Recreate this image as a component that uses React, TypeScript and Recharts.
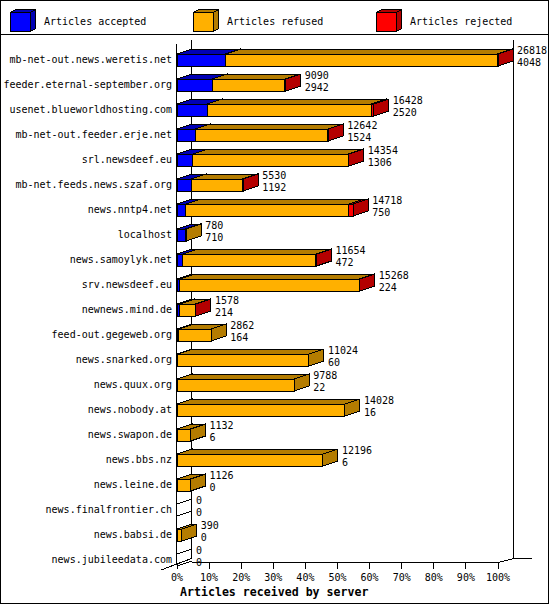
import { BarChart, Bar, XAxis, YAxis, LabelList } from "recharts";

const servers = [
  "mb-net-out.news.weretis.net",
  "feeder.eternal-september.org",
  "usenet.blueworldhosting.com",
  "mb-net-out.feeder.erje.net",
  "srl.newsdeef.eu",
  "mb-net.feeds.news.szaf.org",
  "news.nntp4.net",
  "localhost",
  "news.samoylyk.net",
  "srv.newsdeef.eu",
  "newnews.mind.de",
  "feed-out.gegeweb.org",
  "news.snarked.org",
  "news.quux.org",
  "news.nobody.at",
  "news.swapon.de",
  "news.bbs.nz",
  "news.leine.de",
  "news.finalfrontier.ch",
  "news.babsi.de",
  "news.jubileedata.com",
];

// upper number next to each bar
const offered = [26818, 9090, 16428, 12642, 14354, 5530, 14718, 780, 11654, 15268, 1578, 2862, 11024, 9788, 14028, 1132, 12196, 1126, 0, 390, 0];
const accepted = [4048, 2942, 2520, 1524, 1306, 1192, 750, 710, 472, 224, 214, 164, 60, 22, 16, 6, 6, 0, 0, 0, 0];
const refused = [22690, 6068, 13738, 11068, 12998, 4288, 13618, 70, 11132, 14994, 1304, 2698, 10964, 9766, 14012, 1126, 12190, 1126, 0, 390, 0];
const rejected = [80, 80, 170, 50, 50, 50, 350, 0, 50, 50, 60, 0, 0, 0, 0, 0, 0, 0, 0, 0, 0];

const tickLabels = ["0%", "10%", "20%", "30%", "40%", "50%", "60%", "70%", "80%", "90%", "100%"];

const seriesNames = ["Articles accepted", "Articles refused", "Articles rejected"];
const frontColors = ["#0000ff", "#ffb000", "#ff0000"];
const darkColors = ["#0000b4", "#b47c00", "#b40000"];

const FONT = "'DejaVu Sans Mono', monospace";
const DX = 15;
const DY = 5;

const data = servers.map((name, i) => ({
  name,
  accepted: accepted[i],
  refused: refused[i],
  rejected: rejected[i],
}));

const X_MAX = Math.max(...offered);
const ticks = tickLabels.map((_, i) => (X_MAX * i) / (tickLabels.length - 1));

function box3d(front: string, dark: string) {
  return (props: any) => {
    const { x, y, width: w, height: h } = props;
    if (!(w > 0.01)) return <g />;
    return (
      <g stroke="#000" strokeWidth={1} shapeRendering="crispEdges">
        <polygon
          points={`${x},${y} ${x + DX},${y - DY} ${x + w + DX},${y - DY} ${x + w},${y}`}
          fill={dark}
        />
        <polygon
          points={`${x + w},${y} ${x + w + DX},${y - DY} ${x + w + DX},${y + h - DY} ${x + w},${y + h}`}
          fill={dark}
        />
        <rect x={x} y={y} width={w} height={h} fill={front} />
      </g>
    );
  };
}

const valueLabel = (props: any) => {
  const vb = props.viewBox || props;
  const x = vb.x ?? props.x;
  const y = vb.y ?? props.y;
  const w = vb.width ?? props.width ?? 0;
  const h = vb.height ?? props.height ?? 0;
  const i = props.index;
  const end = x + w;
  return (
    <g>
      {offered[i] === 0 && (
        <g stroke="#000" strokeWidth={1} shapeRendering="crispEdges">
          <line x1={x} y1={y} x2={x + DX} y2={y - DY} />
          <line x1={x} y1={y + h} x2={x + DX} y2={y + h - DY} />
        </g>
      )}
      <text x={end + DX + 4} y={y} fontFamily={FONT} fontSize={10} fill="#000">
        {offered[i]}
      </text>
      <text x={end + DX + 4} y={y + 12} fontFamily={FONT} fontSize={10} fill="#000">
        {accepted[i]}
      </text>
    </g>
  );
};

function Backdrop() {
  const legendX = [10, 193, 376];
  return (
    <svg width={550} height={605} style={{ position: "absolute", left: 0, top: 0 }}>
      <rect x={0.5} y={0.5} width={548} height={603} fill="#fff" stroke="#000" />
      <line x1={0} y1={34.5} x2={549} y2={34.5} stroke="#000" />
      {seriesNames.map((n, i) => {
        const bx = legendX[i] + 0.5;
        return (
          <g key={n}>
            <g stroke="#000" shapeRendering="crispEdges">
              <polygon points={`${bx},12.5 ${bx + 5},9.5 ${bx + 25},9.5 ${bx + 20},12.5`} fill={darkColors[i]} />
              <polygon points={`${bx + 20},12.5 ${bx + 25},9.5 ${bx + 25},28.5 ${bx + 20},31.5`} fill={darkColors[i]} />
              <rect x={bx} y={12.5} width={20} height={19} fill={frontColors[i]} />
            </g>
            <text x={legendX[i] + 34} y={24.5} fontFamily={FONT} fontSize={10}>
              {n}
            </text>
          </g>
        );
      })}
      <g stroke="#000" shapeRendering="crispEdges">
        <line x1={176.5} y1={44} x2={176.5} y2={565} />
        <line x1={191.5} y1={40} x2={191.5} y2={558.5} />
        <line x1={513.5} y1={40} x2={513.5} y2={558.5} />
        <line x1={161} y1={570} x2={191.5} y2={558.5} />
        <line x1={191.5} y1={562.5} x2={498.5} y2={562.5} />
        <line x1={498.5} y1={562.5} x2={513.5} y2={558.5} />
        <line x1={513.5} y1={558.5} x2={532} y2={558.5} />
      </g>
      <text x={180} y={596} fontFamily={FONT} fontSize={11.6} fontWeight="bold">
        Articles received by server
      </text>
    </svg>
  );
}

export default function App() {
  return (
    <div style={{ position: "relative", width: 550, height: 605 }}>
      <style>{"body{margin:0}"}</style>
      <Backdrop />
      <div style={{ position: "absolute", left: 0, top: 0 }}>
        <BarChart
          width={550}
          height={605}
          data={data}
          layout="vertical"
          margin={{ top: 47, right: 52, bottom: 0, left: 0 }}
          barSize={12}
        >
          <XAxis
            type="number"
            domain={[0, X_MAX]}
            ticks={ticks}
            height={33}
            axisLine={false}
            tickLine={false}
            interval={0}
            tick={(p: any) => (
              <g key={p.index}>
                <line x1={p.x} y1={562.5} x2={p.x} y2={568.5} stroke="#000" shapeRendering="crispEdges" />
                <text x={p.x} y={581} textAnchor="middle" fontFamily={FONT} fontSize={10} fill="#000">
                  {tickLabels[p.index]}
                </text>
              </g>
            )}
          />
          <YAxis
            type="category"
            dataKey="name"
            width={177}
            axisLine={false}
            tickLine={false}
            interval={0}
            tick={(p: any) => (
              <text key={p.index} x={172} y={p.y + 3.5} textAnchor="end" fontFamily={FONT} fontSize={10} fill="#000">
                {p.payload.value}
              </text>
            )}
          />
          <Bar dataKey="accepted" stackId="s" isAnimationActive={false} shape={box3d(frontColors[0], darkColors[0])} />
          <Bar dataKey="refused" stackId="s" isAnimationActive={false} shape={box3d(frontColors[1], darkColors[1])} />
          <Bar dataKey="rejected" stackId="s" isAnimationActive={false} shape={box3d(frontColors[2], darkColors[2])}>
            <LabelList content={valueLabel} />
          </Bar>
        </BarChart>
      </div>
    </div>
  );
}
